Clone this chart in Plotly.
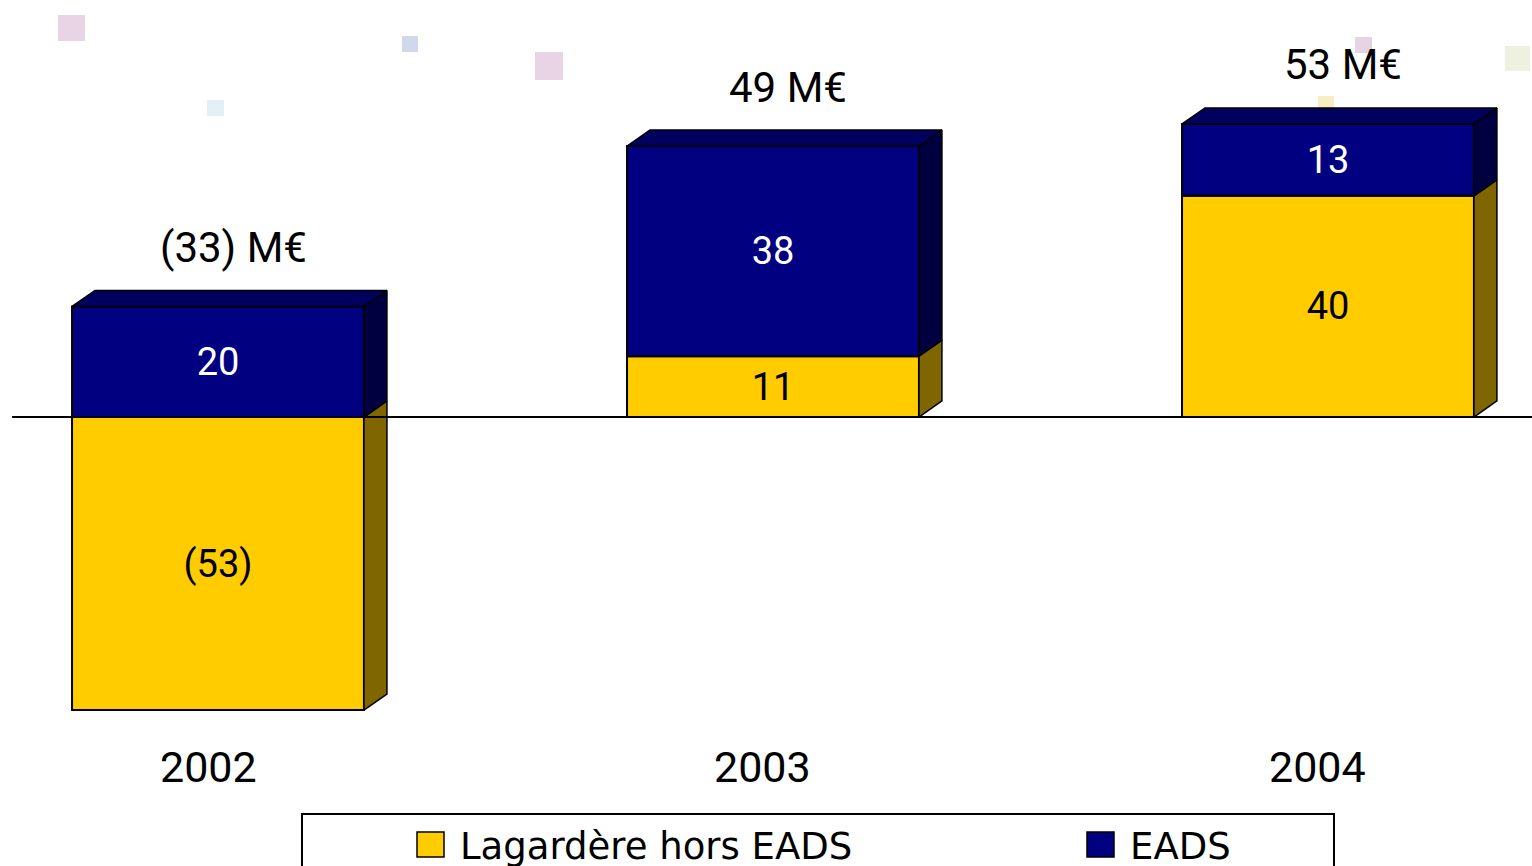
import plotly.graph_objects as go

# ── Data ──────────────────────────────────────────────────────────────────────
years = ["2002", "2003", "2004"]
lagardere = [-53, 11, 40]      # Lagardère hors EADS
eads = [20, 38, 13]            # EADS
series_names = ["Lagardère hors EADS", "EADS"]

# ── Style ─────────────────────────────────────────────────────────────────────
_YELLOW, _YELLOW_SIDE, _YELLOW_TOP = "#FFCC00", "#806600", "#B38F00"
_NAVY, _NAVY_SIDE, _NAVY_TOP = "#000080", "#000040", "#00005E"
_FONT = "Roboto"
_BAR_W = 0.526          # bar width in category units
_DX, _DY = 0.0414, 2.9  # 3D depth offset (x units, y units)
_X_RANGE = [-0.3928, 2.3676]
_Y_RANGE = [-81.19, 75.41]


def _fmt(v):
    return f"({abs(v)})" if v < 0 else f"{v}"


def _stack(values_list):
    """Relative stacking: returns bases per series."""
    pos = [0.0] * len(years)
    neg = [0.0] * len(years)
    bases = []
    for vals in values_list:
        b = []
        for i, v in enumerate(vals):
            if v >= 0:
                b.append(pos[i])
                pos[i] += v
            else:
                b.append(neg[i])
                neg[i] += v
        bases.append(b)
    return bases, pos


def _poly(xs, ys, color):
    return go.Scatter(
        x=xs + [xs[0]], y=ys + [ys[0]], mode="lines", fill="toself",
        fillcolor=color, line=dict(color="black", width=1.5),
        hoverinfo="skip", showlegend=False,
    )


series = [lagardere, eads]
fronts = [_YELLOW, _NAVY]
sides = [_YELLOW_SIDE, _NAVY_SIDE]
tops = [_YELLOW_TOP, _NAVY_TOP]
text_colors = ["black", "white"]
bases, tops_y = _stack(series)
xs = list(range(len(years)))

fig = go.Figure()

# Side faces and top faces
for s, vals in enumerate(series):
    for i, v in enumerate(vals):
        y0, y1 = bases[s][i], bases[s][i] + v
        xr = i + _BAR_W / 2
        fig.add_trace(_poly([xr, xr + _DX, xr + _DX, xr],
                            [y0, y0 + _DY, y1 + _DY, y1], sides[s]))

for i in xs:
    # topmost segment gets the top face
    top_series = max(
        (s for s in range(len(series)) if series[s][i] >= 0),
        key=lambda s: bases[s][i] + series[s][i],
    )
    yt = tops_y[i]
    xl, xr = i - _BAR_W / 2, i + _BAR_W / 2
    fig.add_trace(_poly([xl, xl + _DX, xr + _DX, xr],
                        [yt, yt + _DY, yt + _DY, yt], tops[top_series]))

# Front faces
for s, vals in enumerate(series):
    fig.add_trace(go.Bar(
        x=xs, y=vals, base=bases[s], width=_BAR_W,
        name=series_names[s],
        marker=dict(color=fronts[s], line=dict(color="black", width=2)),
        text=[_fmt(v) for v in vals],
        textposition="inside", insidetextanchor="middle", textangle=0,
        textfont=dict(family=_FONT, size=38, color=text_colors[s]),
        constraintext="none",
        showlegend=False, hoverinfo="skip",
    ))

annotations = []
# Totals above the bars
for i in xs:
    total = sum(vals[i] for vals in series)
    annotations.append(dict(
        x=i + _DX / 2, y=tops_y[i] + _DY, xref="x", yref="y",
        text=f"{_fmt(total)} M€", showarrow=False, yshift=43, xshift=4,
        font=dict(family=_FONT, size=42, color="black"),
    ))
# Year labels
for i, yr in enumerate(years):
    annotations.append(dict(
        x=i, y=-63.3, xref="x", yref="y", text=yr, showarrow=False,
        xshift=-10, font=dict(family=_FONT, size=43, color="black"),
    ))

# Custom legend
W, H = 1532, 866
legend_items = [(417, _YELLOW, 458, series_names[0]),
                (1087, _NAVY, 1128, series_names[1])]
shapes = [
    dict(type="rect", xref="paper", yref="paper",
         x0=302 / W, x1=1334 / W, y0=-0.1, y1=1 - 814 / H,
         line=dict(color="black", width=2), fillcolor="white", layer="above"),
]
for sx, col, tx, label in legend_items:
    shapes.append(dict(type="rect", xref="paper", yref="paper",
                       x0=sx / W, x1=(sx + 27) / W,
                       y0=1 - 857 / H, y1=1 - 832 / H,
                       line=dict(color="black", width=1.5), fillcolor=col,
                       layer="above"))
    annotations.append(dict(
        x=tx / W, y=1 - 846 / H, xref="paper", yref="paper", text=label,
        showarrow=False, xanchor="left", yanchor="middle",
        font=dict(family="DejaVu Sans", size=37, color="black"),
    ))

# Zero line
shapes.append(dict(type="line", xref="x", yref="y",
                   x0=-0.371, x1=_X_RANGE[1], y0=0, y1=0,
                   line=dict(color="black", width=2), layer="above"))

# Background decoration squares (pixel boxes: x0, y0, x1, y1, colour)
deco = [
    (58, 15, 85, 41, "#E8D4E4"), (402, 36, 418, 52, "#D0D8EC"),
    (535, 52, 563, 80, "#E8D4E4"), (207, 100, 224, 116, "#E4F0F8"),
    (1355, 37, 1372, 53, "#E4D4E4"), (1505, 46, 1530, 71, "#EEF0E0"),
    (1318, 96, 1334, 108, "#F8EEC4"),
]
for x0, y0, x1, y1, col in deco:
    shapes.append(dict(type="rect", xref="paper", yref="paper",
                       x0=x0 / W, x1=x1 / W, y0=1 - y1 / H, y1=1 - y0 / H,
                       line=dict(width=0), fillcolor=col, layer="below"))

fig.update_layout(
    width=W, height=H,
    margin=dict(l=0, r=0, t=0, b=0),
    plot_bgcolor="white", paper_bgcolor="white",
    barmode="overlay",
    xaxis=dict(range=_X_RANGE, visible=False, fixedrange=True),
    yaxis=dict(range=_Y_RANGE, visible=False, fixedrange=True),
    shapes=shapes, annotations=annotations,
    showlegend=False,
)

# page has a default 8px body margin; remove it so the figure fills the window
fig.write_html("out.html", config={"displayModeBar": False},
               post_script="document.body.style.margin='0';")
